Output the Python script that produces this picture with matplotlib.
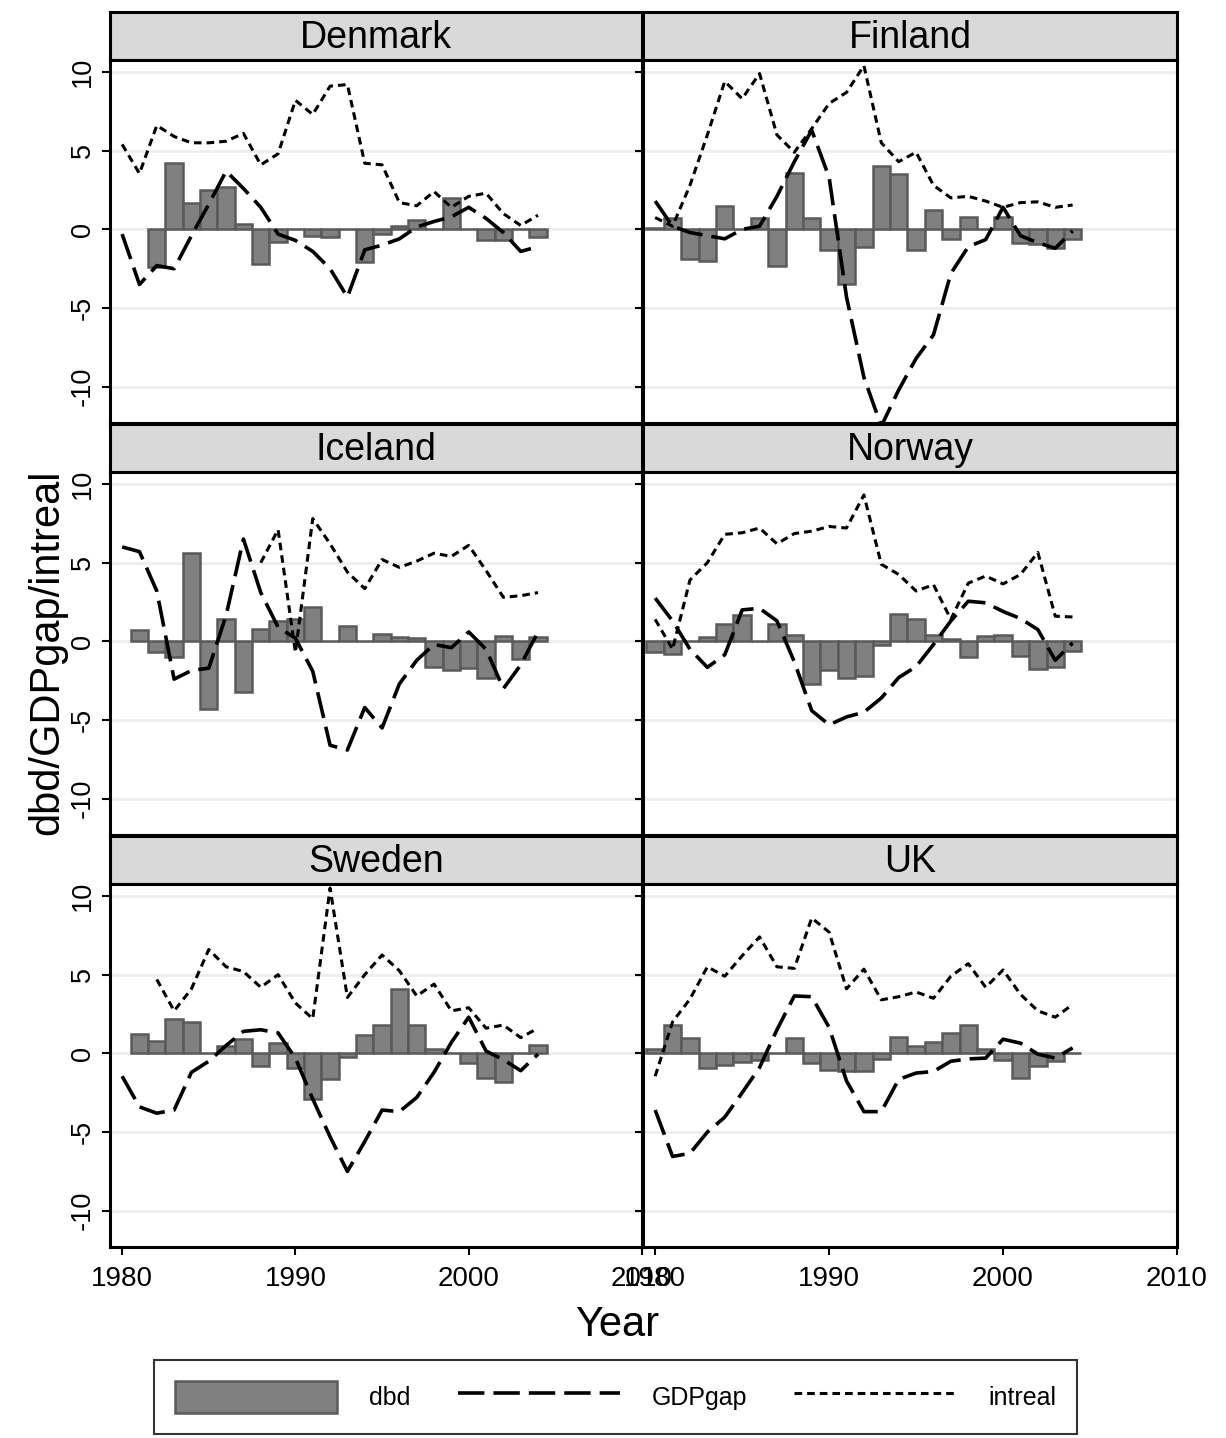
import numpy as np
import matplotlib
matplotlib.use("Agg")
import matplotlib.pyplot as plt

# =====================================================
# DATA
# =====================================================

years = list(range(1980, 2005))

countries = ["Denmark", "Finland", "Iceland", "Norway", "Sweden", "UK"]

# Denmark
dk_dbd_years = years[2:]
dk_dbd = [-2.4, 4.2, 1.7, 2.5, 2.7, 0.35, -2.2, -0.8, 0.0, -0.4, -0.5, 0.0,
          -2.1, -0.3, 0.2, 0.6, 0.0, 2.0, 0.0, -0.7, -0.7, 0.0, -0.5]
dk_gap_years = years
dk_gap = [-0.3, -3.5, -2.3, -2.5, -0.4, 1.6, 3.7, 2.6, 1.4, -0.3, -0.7, -1.4,
          -2.5, -4.3, -1.3, -1.0, -0.6, 0.15, 0.5, 0.8, 1.4, 0.7, -0.2, -1.4, -1.1]
dk_int_years = years
dk_int = [5.4, 3.55, 6.6, 5.9, 5.5, 5.5, 5.6, 6.1, 4.1, 4.8, 8.2, 7.3, 9.1,
          9.2, 4.2, 4.1, 1.7, 1.5, 2.4, 1.4, 2.1, 2.3, 1.0, 0.25, 0.9]

# Finland
fi_dbd_years = years
fi_dbd = [0.1, 0.75, -1.9, -2.0, 1.5, 0.0, 0.7, -2.3, 3.6, 0.7, -1.3, -3.5,
          -1.1, 4.0, 3.5, -1.3, 1.2, -0.6, 0.8, 0.0, 0.8, -0.85, -0.9, -1.2, -0.6]
fi_gap_years = years
fi_gap = [1.8, 0.2, -0.2, -0.4, -0.6, 0.0, 0.2, 2.1, 4.3, 6.3, 3.3, -4.3,
          -9.4, -12.5, -10.2, -8.2, -6.7, -2.8, -1.1, -0.65, 1.4, -0.4, -0.85, -1.2, -0.1]
fi_int_years = years
fi_int = [0.75, 0.2, 2.8, 6.0, 9.4, 8.3, 9.9, 6.0, 4.9, 6.4, 8.0, 8.7, 10.4,
          5.5, 4.3, 4.9, 2.8, 2.0, 2.1, 1.8, 1.4, 1.7, 1.75, 1.4, 1.55]

# Iceland
is_dbd_years = years[1:]
is_dbd = [0.75, -0.7, -1.0, 5.6, -4.3, 1.4, -3.2, 0.8, 1.3, 1.4, 2.2, 0.0,
          1.0, 0.0, 0.5, 0.25, 0.2, -1.6, -1.8, -1.7, -2.3, 0.35, -1.1, 0.25]
is_gap_years = years
is_gap = [6.0, 5.7, 3.2, -2.4, -1.85, -1.7, 1.65, 6.5, 3.1, 0.9, 0.2, -1.9,
          -6.6, -6.9, -4.2, -5.5, -2.7, -1.2, -0.2, -0.4, 0.6, -0.5, -3.0, -1.5, 0.6]
is_int_years = years[8:]
is_int = [5.0, 7.1, -0.7, 7.8, 6.2, 4.4, 3.35, 5.2, 4.7, 5.1, 5.6, 5.4, 6.1,
          4.5, 2.8, 2.9, 3.1]

# Norway
no_dbd_years = years
no_dbd = [-0.7, -0.8, 0.0, 0.25, 1.1, 1.7, 0.0, 1.1, 0.4, -2.7, -1.8, -2.3,
          -2.2, -0.2, 1.75, 1.45, 0.4, 0.15, -1.0, 0.35, 0.4, -0.95, -1.75, -1.6, -0.6]
no_gap_years = years
no_gap = [2.75, 1.3, -0.5, -1.65, -0.85, 2.0, 2.1, 1.3, -1.3, -4.4, -5.3, -4.8,
          -4.5, -3.6, -2.3, -1.6, -0.2, 1.3, 2.55, 2.45, 1.9, 1.45, 0.75, -1.2, -0.1]
no_int_years = years
no_int = [1.4, -0.5, 3.9, 5.0, 6.8, 6.9, 7.2, 6.2, 6.85, 7.0, 7.3, 7.2, 9.3,
          4.9, 4.25, 3.2, 3.6, 1.4, 3.7, 4.15, 3.65, 4.25, 5.65, 1.6, 1.55]

# Sweden
se_dbd_years = years[1:]
se_dbd = [1.2, 0.8, 2.2, 2.0, 0.0, 0.5, 0.9, -0.8, 0.65, -0.9, -2.9, -1.6,
          -0.25, 1.15, 1.8, 4.1, 1.8, 0.3, 0.0, -0.6, -1.55, -1.8, 0.0, 0.55]
se_gap_years = years
se_gap = [-1.45, -3.4, -3.8, -3.6, -1.2, -0.5, 0.5, 1.4, 1.5, 1.3, -0.3, -2.9,
          -5.3, -7.5, -5.6, -3.6, -3.7, -2.8, -1.2, 0.7, 2.3, 0.15, -0.4, -1.1, -0.05]
se_int_years = years[2:]
se_int = [4.7, 2.7, 4.1, 6.6, 5.5, 5.2, 4.2, 5.0, 3.2, 2.2, 10.5, 3.55, 5.0,
          6.25, 5.25, 3.65, 4.4, 2.7, 2.9, 1.6, 1.8, 1.0, 1.6]

# UK
uk_dbd_years = years
uk_dbd = [0.3, 1.8, 1.0, -0.9, -0.75, -0.55, -0.45, 0.0, 1.0, -0.6, -1.05, -1.1,
          -1.15, -0.35, 1.05, 0.45, 0.7, 1.3, 1.8, 0.3, -0.4, -1.55, -0.8, -0.5, 0.0]
uk_gap_years = years
uk_gap = [-3.6, -6.55, -6.35, -5.0, -4.05, -2.5, -0.9, 1.5, 3.65, 3.6, 1.65, -1.75,
          -3.7, -3.7, -1.65, -1.25, -1.15, -0.5, -0.35, -0.3, 0.9, 0.65, -0.05, -0.3, 0.35]
uk_int_years = years
uk_int = [-1.45, 2.0, 3.45, 5.5, 4.9, 6.2, 7.4, 5.5, 5.4, 8.6, 7.7, 4.1, 5.35,
          3.4, 3.6, 3.9, 3.5, 4.9, 5.7, 4.2, 5.3, 3.75, 2.7, 2.3, 3.1]

panel_data = [
    (dk_dbd_years, dk_dbd, dk_gap_years, dk_gap, dk_int_years, dk_int),
    (fi_dbd_years, fi_dbd, fi_gap_years, fi_gap, fi_int_years, fi_int),
    (is_dbd_years, is_dbd, is_gap_years, is_gap, is_int_years, is_int),
    (no_dbd_years, no_dbd, no_gap_years, no_gap, no_int_years, no_int),
    (se_dbd_years, se_dbd, se_gap_years, se_gap, se_int_years, se_int),
    (uk_dbd_years, uk_dbd, uk_gap_years, uk_gap, uk_int_years, uk_int),
]

y_ticks = [-10, -5, 0, 5, 10]
x_ticks = [1980, 1990, 2000, 2010]

# =====================================================
# STYLE
# =====================================================

plt.rcParams["font.family"] = ["Liberation Sans", "DejaVu Sans"]
plt.rcParams["axes.unicode_minus"] = False
plt.rcParams["lines.scale_dashes"] = False

W, H = 1226, 1438
fig = plt.figure(figsize=(W / 100, H / 100), dpi=100)

cols = [(110, 642), (643, 1177)]
strip_rows = [(12, 60), (424, 472), (836, 884)]
plot_rows = [(60, 423), (472, 835), (884, 1247)]

bar_face = "#808080"
bar_edge = "#5a5a5a"


def px_axes(x0, y0, x1, y1):
    return fig.add_axes([x0 / W, 1 - y1 / H, (x1 - x0) / W, (y1 - y0) / H])


handles = None

for k, name in enumerate(countries):
    r, c = divmod(k, 2)
    x0, x1 = cols[c]

    # strip header
    sy0, sy1 = strip_rows[r]
    sax = px_axes(x0, sy0, x1, sy1)
    sax.set_facecolor("#d9d9d9")
    sax.set_xticks([])
    sax.set_yticks([])
    for sp in sax.spines.values():
        sp.set_linewidth(2.2)
    sax.text(0.5, 0.45, name, transform=sax.transAxes, ha="center", va="center",
             fontsize=27)

    # plot panel
    py0, py1 = plot_rows[r]
    ax = px_axes(x0, py0, x1, py1)
    by, bv, gy, gv, iy, iv = panel_data[k]

    b = ax.bar(by, bv, width=1.0, color=bar_face, edgecolor=bar_edge,
               linewidth=1.8, zorder=2)
    l1, = ax.plot(gy, gv, color="black", lw=2.6, dashes=(19, 6.5), zorder=3)
    l2, = ax.plot(iy, iv, color="black", lw=2.2, dashes=(5.5, 3.6), zorder=4)
    if handles is None:
        handles = [b, l1, l2]

    ax.set_xlim(1979.3, 2010)
    ax.set_ylim(-12.3, 10.76)
    ax.set_yticks(y_ticks)
    ax.set_axisbelow(True)
    ax.yaxis.grid(True, color="#eeeeee", lw=2)
    for sp in ax.spines.values():
        sp.set_linewidth(2.2)

    ax.tick_params(axis="y", length=6, width=1.5, labelsize=19.5, pad=4,
                   labelleft=(c == 0))
    if c == 0:
        for lab in ax.get_yticklabels():
            lab.set_rotation(90)
            lab.set_va("center")

    if r == 2:
        ax.set_xticks(x_ticks)
        ax.tick_params(axis="x", length=6, width=1.5, labelsize=20, pad=8)
    else:
        ax.set_xticks([])

# axis titles
fig.text(47 / W, 1 - 652 / H, "dbd/GDPgap/intreal", rotation=90,
         ha="center", va="center", fontsize=30)
fig.text(617 / W, 1 - 1325 / H, "Year", ha="center", va="center", fontsize=30)

# legend
leg = fig.legend(handles, ["dbd", "GDPgap", "intreal"], ncol=3,
                 loc="center", bbox_to_anchor=(615.5 / W, 1 - 1397 / H),
                 fontsize=18, frameon=True, fancybox=False,
                 handlelength=6.5, handleheight=1.6, handletextpad=1.25,
                 columnspacing=1.9, borderpad=0.85)
leg.get_frame().set_edgecolor("black")
leg.get_frame().set_linewidth(1.5)

fig.savefig("out.png", dpi=100)
